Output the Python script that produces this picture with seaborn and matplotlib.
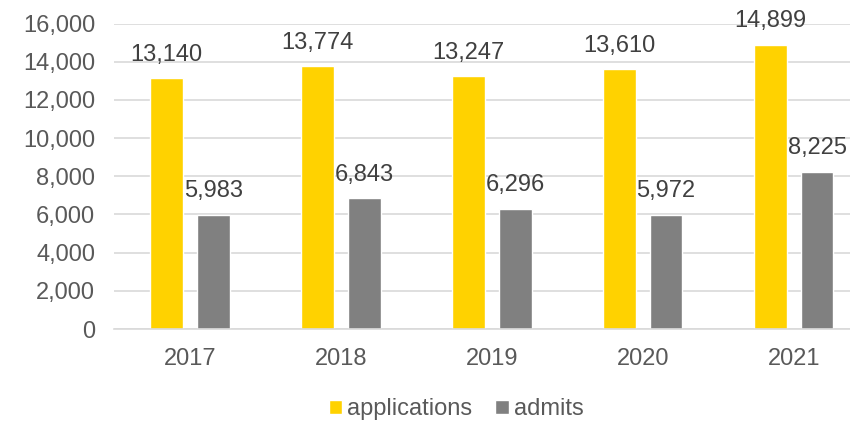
import pandas as pd
import seaborn as sns
import matplotlib.pyplot as plt
from matplotlib.ticker import FuncFormatter

# values
years = ["2017", "2018", "2019", "2020", "2021"]
applications = [13140, 13774, 13247, 13610, 14899]
admits = [5983, 6843, 6296, 5972, 8225]

df = pd.DataFrame({
    "year": years * 2,
    "series": ["applications"] * len(years) + ["admits"] * len(years),
    "count": applications + admits,
})

sns.set_style("white")
plt.rcParams["font.family"] = ["Liberation Sans", "DejaVu Sans"]

fig = plt.figure(figsize=(8.5, 4.23), dpi=100)
ax = fig.add_axes([0.1347, 0.2222, 0.888, 0.7222])

sns.barplot(
    data=df, x="year", y="count", hue="series",
    palette={"applications": "#FFD200", "admits": "#808080"},
    width=0.616, gap=0.295, saturation=1, ax=ax,
)

for cont in ax.containers:
    ax.bar_label(cont, labels=[f"{v:,.0f}" for v in cont.datavalues],
                 padding=9, fontsize=17, color="#404040")

ax.set_ylim(0, 16000)
ax.set_yticks(range(0, 16001, 2000))
ax.yaxis.set_major_formatter(FuncFormatter(lambda v, p: f"{v:,.0f}"))
ax.yaxis.grid(True, color="#D9D9D9", linewidth=1.2)
ax.set_axisbelow(True)
for s in ["top", "right", "left"]:
    ax.spines[s].set_visible(False)
ax.spines["bottom"].set_color("#D9D9D9")
ax.spines["bottom"].set_linewidth(1.2)
ax.tick_params(axis="both", length=0, labelsize=17, labelcolor="#595959")
ax.tick_params(axis="y", pad=14)
ax.tick_params(axis="x", pad=14)
ax.set_xlabel("")
ax.set_ylabel("")

handles, labels = ax.get_legend_handles_labels()
ax.legend_.remove()
fig.legend(handles, labels, loc="center", bbox_to_anchor=(456 / 850, 0.032),
           ncol=2, frameon=False, fontsize=17, labelcolor="#595959",
           handlelength=0.57, handleheight=0.57, handletextpad=0.2,
           columnspacing=1.0, borderpad=0)

fig.savefig("out.png", dpi=100)
